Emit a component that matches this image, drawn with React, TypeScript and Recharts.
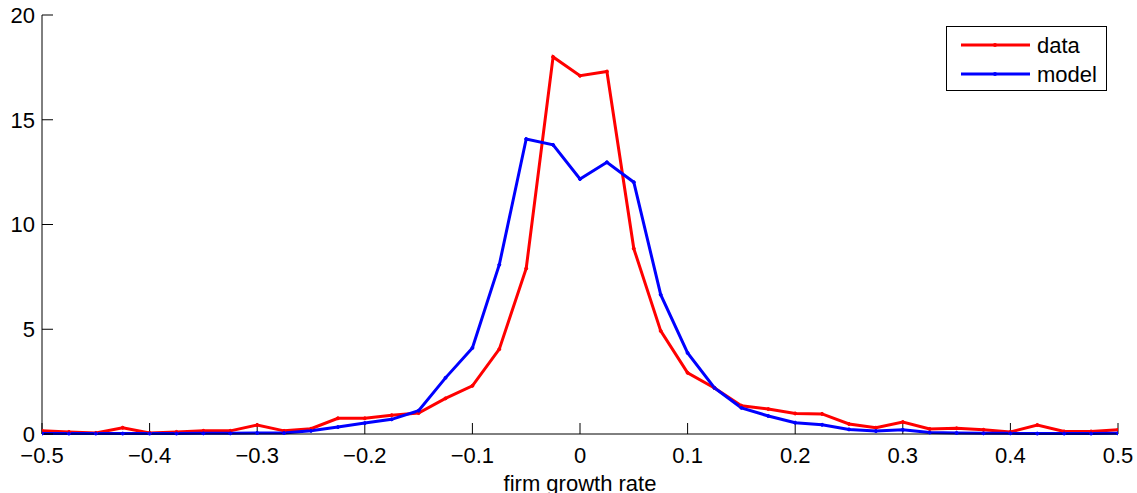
import React from "react";
import { LineChart, Line, XAxis, YAxis, Legend } from "recharts";

const growthRates = [
  -0.5, -0.475, -0.45, -0.425, -0.4, -0.375, -0.35, -0.325, -0.3, -0.275,
  -0.25, -0.225, -0.2, -0.175, -0.15, -0.125, -0.1, -0.075, -0.05, -0.025,
  0, 0.025, 0.05, 0.075, 0.1, 0.125, 0.15, 0.175, 0.2, 0.225,
  0.25, 0.275, 0.3, 0.325, 0.35, 0.375, 0.4, 0.425, 0.45, 0.475, 0.5,
];

const dataSeries = [
  0.15, 0.1, 0.05, 0.3, 0.05, 0.1, 0.15, 0.15, 0.43, 0.15,
  0.25, 0.75, 0.75, 0.9, 1.0, 1.7, 2.3, 4.05, 7.9, 18.0,
  17.1, 17.3, 8.85, 4.92, 2.92, 2.2, 1.35, 1.19, 0.98, 0.96,
  0.48, 0.3, 0.57, 0.24, 0.27, 0.2, 0.1, 0.43, 0.12, 0.12, 0.2,
];

const modelSeries = [
  0.02, 0.02, 0.02, 0.02, 0.02, 0.02, 0.03, 0.03, 0.05, 0.05,
  0.15, 0.33, 0.52, 0.7, 1.11, 2.68, 4.11, 8.08, 14.08, 13.8,
  12.17, 12.97, 12.02, 6.65, 3.87, 2.2, 1.25, 0.86, 0.54, 0.44,
  0.22, 0.14, 0.2, 0.07, 0.05, 0.03, 0.03, 0.02, 0.02, 0.02, 0.03,
];

const xTicks = [-0.5, -0.4, -0.3, -0.2, -0.1, 0, 0.1, 0.2, 0.3, 0.4, 0.5];
const xTickLabels = ["\u22120.5", "\u22120.4", "\u22120.3", "\u22120.2", "\u22120.1", "0", "0.1", "0.2", "0.3", "0.4", "0.5"];
const yTicks = [0, 5, 10, 15, 20];

const rows = growthRates.map((g, i) => ({ g, data: dataSeries[i], model: modelSeries[i] }));

const FONT = "'Liberation Sans', Arial, Helvetica, sans-serif";

const renderLegend = (props: any) => {
  const payload = props.payload || [];
  return (
    <div
      style={{
        width: 161,
        height: 65,
        boxSizing: "border-box",
        border: "1px solid #000",
        background: "#fff",
        fontFamily: FONT,
        fontSize: 22,
        color: "#000",
        position: "relative",
      }}
    >
      {payload.map((p: any, i: number) => (
        <div key={i} style={{ position: "absolute", left: 0, top: 4 + i * 29, height: 29, display: "flex", alignItems: "center" }}>
          <svg width={84} height={29} style={{ display: "block" }}>
            <line x1={14} x2={83} y1={14} y2={14} stroke={p.color} strokeWidth={3} />
            <circle cx={48} cy={14} r={2} fill={p.color} />
          </svg>
          <span style={{ marginLeft: 6, lineHeight: "29px" }}>{p.value}</span>
        </div>
      ))}
    </div>
  );
};

export default function App() {
  return (
    <div style={{ position: "absolute", left: 0, top: 0, width: 1137, height: 493, background: "#fff" }}>
      <LineChart width={1137} height={493} data={rows} margin={{ top: 15, right: 19, bottom: 19, left: 0 }}>
        <XAxis
          dataKey="g"
          type="number"
          domain={[-0.5, 0.5]}
          ticks={xTicks}
          tickFormatter={(v: number) => xTickLabels[xTicks.indexOf(v)] ?? String(v)}
          tickSize={-11}
          tickMargin={24}
          height={40}
          stroke="#000"
          tick={{ fill: "#000", fontSize: 22, fontFamily: FONT }}
          interval={0}
          allowDataOverflow
          label={{ value: "firm growth rate", position: "bottom", offset: 1, fill: "#000", fontSize: 22, fontFamily: FONT }}
        />
        <YAxis
          type="number"
          domain={[0, 20]}
          ticks={yTicks}
          tickSize={-11}
          tickMargin={18}
          width={42}
          stroke="#000"
          tick={{ fill: "#000", fontSize: 22, fontFamily: FONT }}
          interval={0}
        />
        <Legend
          layout="horizontal"
          verticalAlign="middle"
          align="center"
          wrapperStyle={{ left: 946, top: 26, width: 161, height: 65 }}
          content={renderLegend}
        />
        <Line
          type="linear"
          dataKey="data"
          name="data"
          stroke="#ff0000"
          strokeWidth={3}
          dot={{ r: 1.5, fill: "#ff0000", stroke: "#ff0000", strokeWidth: 1 }}
          activeDot={false}
          isAnimationActive={false}
        />
        <Line
          type="linear"
          dataKey="model"
          name="model"
          stroke="#0000ff"
          strokeWidth={3}
          dot={{ r: 1.5, fill: "#0000ff", stroke: "#0000ff", strokeWidth: 1 }}
          activeDot={false}
          isAnimationActive={false}
        />
      </LineChart>
    </div>
  );
}
